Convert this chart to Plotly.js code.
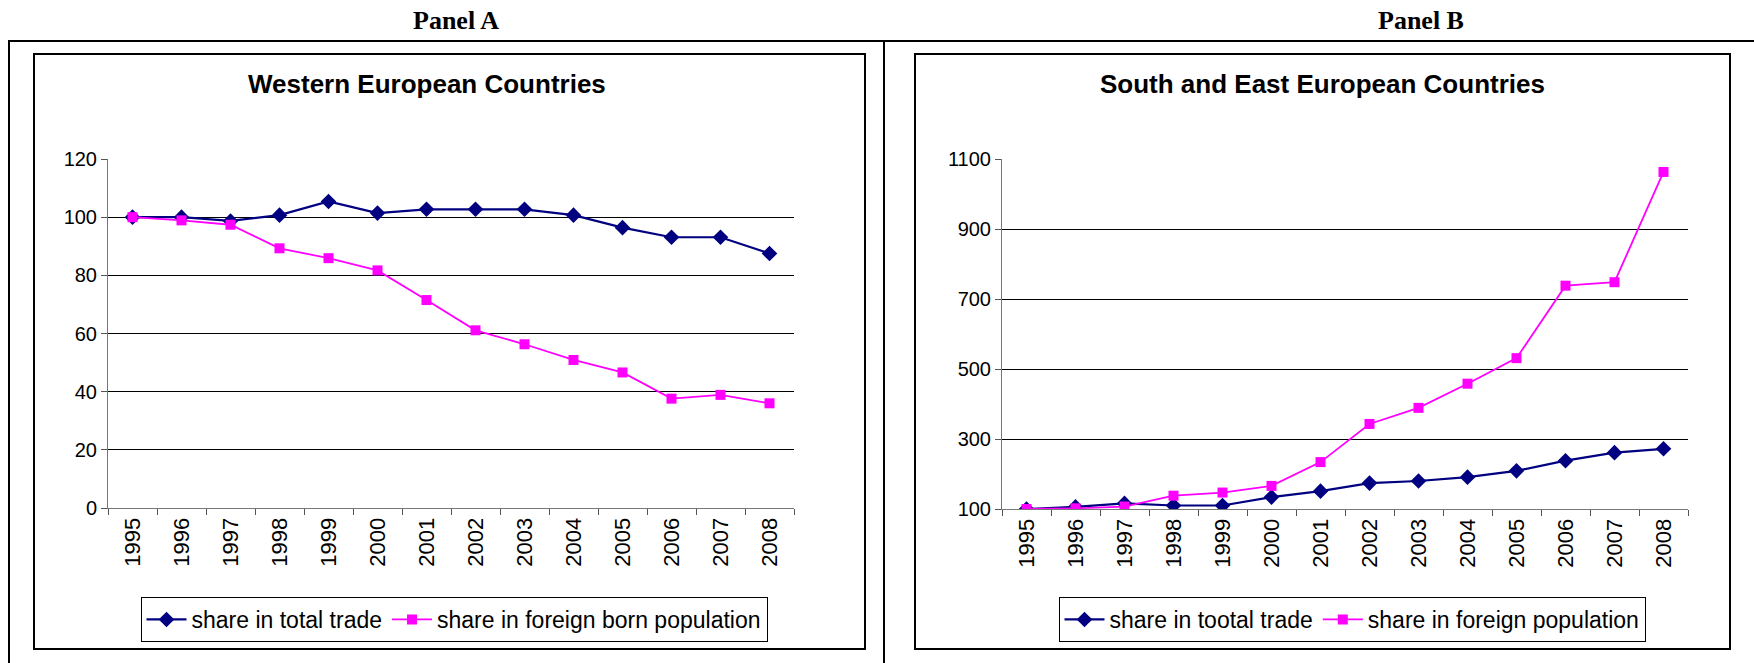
<!DOCTYPE html>
<html><head><meta charset="utf-8">
<script src="https://cdn.plot.ly/plotly-3.0.1.min.js"></script>
<style>html,body{margin:0;padding:0;background:#fff;} #chart{width:1754px;height:663px;}</style>
</head><body><div id="chart"></div>
<script>
const years = ['1995','1996','1997','1998','1999','2000','2001','2002','2003','2004','2005','2006','2007','2008'];
const westTrade   = [100, 100, 98.7, 100.7, 105.4, 101.4, 102.7, 102.7, 102.7, 100.7, 96.4, 93.1, 93.1, 87.5];
const westForeign = [100, 98.9, 97.4, 89.3, 85.9, 81.7, 71.5, 61.1, 56.3, 50.9, 46.6, 37.6, 38.9, 36.0];
const seTrade     = [100, 106, 116, 110, 110, 134, 151, 174, 180, 191, 209, 238, 261, 272];
const seForeign   = [100, 102, 107, 138, 147, 166, 234, 343, 389, 458, 531, 738, 748, 1063];
const yTicksA = [0, 20, 40, 60, 80, 100, 120];
const yTicksB = [100, 300, 500, 700, 900, 1100];

const W = 1754, H = 663;
const X = p => p / W;
const Y = p => 1 - p / H;
const font = 'Arial, "Liberation Sans", sans-serif';
const serif = '"Times New Roman", "Liberation Serif", serif';

const navy = '#000080', mag = '#FF00FF';

function tradeTrace(y, name, xa, ya, lg) {
  return {x: years, y: y, name: name, type: 'scatter', mode: 'lines+markers',
    xaxis: xa, yaxis: ya, legend: lg,
    line: {color: navy, width: 2.2},
    marker: {symbol: 'diamond', size: 12, color: navy}};
}
function foreignTrace(y, name, xa, ya, lg) {
  return {x: years, y: y, name: name, type: 'scatter', mode: 'lines+markers',
    xaxis: xa, yaxis: ya, legend: lg,
    line: {color: mag, width: 1.8},
    marker: {symbol: 'square', size: 10, color: mag}};
}

const data = [
  tradeTrace(westTrade, 'share in total trade', 'x', 'y', 'legend'),
  foreignTrace(westForeign, 'share in foreign born population', 'x', 'y', 'legend'),
  tradeTrace(seTrade, 'share in tootal trade', 'x2', 'y2', 'legend2'),
  foreignTrace(seForeign, 'share in foreign population', 'x2', 'y2', 'legend2')
];

function xAxis(d, anchor) {
  return {domain: d, anchor: anchor, type: 'category', range: [-0.5, 13.5],
    tickson: 'boundaries', ticks: 'outside', ticklen: 6, tickcolor: '#555',
    showline: true, linecolor: '#777', linewidth: 1, showgrid: false,
    tickangle: -90, tickfont: {family: font, size: 22, color: '#000'}, fixedrange: true};
}
function yAxis(d, anchor, range, tv) {
  return {domain: d, anchor: anchor, range: range, tickvals: tv, ticktext: tv.map(String),
    ticks: 'outside', ticklen: 6, tickcolor: '#555', showline: true, linecolor: '#777', linewidth: 1,
    showgrid: true, gridcolor: '#000', gridwidth: 1, zeroline: false,
    tickfont: {family: font, size: 20, color: '#000'}, fixedrange: true};
}

const legendStyle = (cx) => ({x: X(cx), xanchor: 'center', y: Y(619.5), yanchor: 'middle',
  orientation: 'h', bordercolor: '#000', borderwidth: 1, bgcolor: '#fff',
  font: {family: font, size: 23, color: '#000'}, itemwidth: 40, tracegroupgap: 0});

const layout = {
  width: W, height: H, margin: {l: 0, r: 0, t: 0, b: 0},
  paper_bgcolor: '#fff', plot_bgcolor: 'rgba(0,0,0,0)', showlegend: true,
  xaxis: xAxis([X(108), X(794)], 'y'),
  yaxis: yAxis([Y(508), Y(159)], 'x', [0, 120], yTicksA),
  xaxis2: xAxis([X(1002), X(1688)], 'y2'),
  yaxis2: yAxis([Y(509), Y(159)], 'x2', [100, 1100], yTicksB),
  legend: legendStyle(454),
  legend2: legendStyle(1352),
  shapes: [
    {type: 'line', xref: 'paper', yref: 'paper', x0: X(8), x1: X(1754), y0: Y(41), y1: Y(41), line: {color: '#000', width: 2}},
    {type: 'line', xref: 'paper', yref: 'paper', x0: X(9), x1: X(9), y0: Y(41), y1: Y(663), line: {color: '#000', width: 2}},
    {type: 'line', xref: 'paper', yref: 'paper', x0: X(884), x1: X(884), y0: Y(41), y1: Y(663), line: {color: '#000', width: 2}},
    {type: 'rect', xref: 'paper', yref: 'paper', x0: X(34), x1: X(865), y0: Y(649), y1: Y(54), line: {color: '#000', width: 2}},
    {type: 'rect', xref: 'paper', yref: 'paper', x0: X(915), x1: X(1730), y0: Y(649), y1: Y(54), line: {color: '#000', width: 2}}
  ],
  annotations: [
    {text: '<b>Panel A</b>', xref: 'paper', yref: 'paper', x: X(456), y: Y(20), xanchor: 'center', yanchor: 'middle', showarrow: false, font: {family: serif, size: 26, color: '#000'}},
    {text: '<b>Panel B</b>', xref: 'paper', yref: 'paper', x: X(1421), y: Y(20), xanchor: 'center', yanchor: 'middle', showarrow: false, font: {family: serif, size: 26, color: '#000'}},
    {text: '<b>Western European Countries</b>', xref: 'paper', yref: 'paper', x: X(427), y: Y(84), xanchor: 'center', yanchor: 'middle', showarrow: false, font: {family: font, size: 26, color: '#000'}},
    {text: '<b>South and East European Countries</b>', xref: 'paper', yref: 'paper', x: X(1322), y: Y(84), xanchor: 'center', yanchor: 'middle', showarrow: false, font: {family: font, size: 26, color: '#000'}}
  ]
};

Plotly.newPlot('chart', data, layout, {displayModeBar: false, staticPlot: true});
</script>
</body></html>
